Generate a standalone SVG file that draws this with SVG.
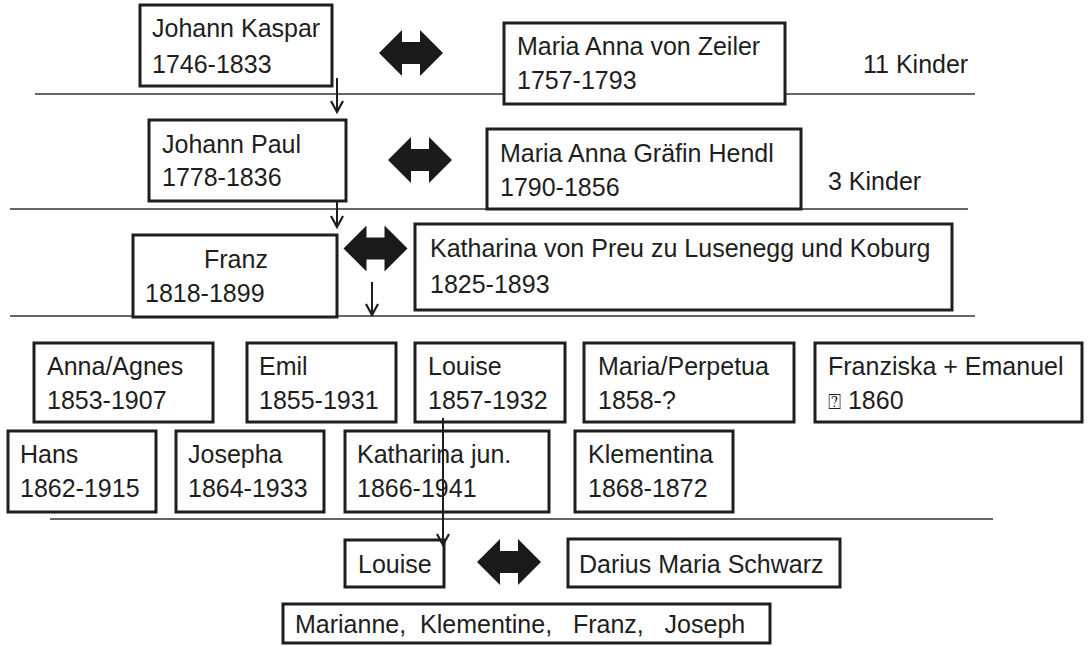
<svg xmlns="http://www.w3.org/2000/svg" width="1090" height="646" viewBox="0 0 1090 646">
<style>
.box{fill:#fff;stroke:#1e1e1e;stroke-width:3}
.t{font-family:"Liberation Sans","DejaVu Sans",sans-serif;font-size:25px;fill:#1e1e1e}
.sep{stroke:#333;stroke-width:1.6}
.con{stroke:#1e1e1e;stroke-width:2;fill:none}
.dbl{fill:#1a1a1a}
</style>
<defs>
<marker id="ah" markerWidth="16" markerHeight="16" refX="14" refY="8" orient="auto" markerUnits="userSpaceOnUse" viewBox="0 0 16 16">
<path d="M3,2 L14,8 L3,14" fill="none" stroke="#1e1e1e" stroke-width="2.2"/>
</marker>
<path id="dbl" d="M-32,0 L-9,-23 L-9,-11 L9,-11 L9,-23 L32,0 L9,23 L9,11 L-9,11 L-9,23 Z"/>
</defs>
<rect width="1090" height="646" fill="#fff"/>
<g id="separators">
<line class="sep" x1="35" y1="94" x2="975" y2="94"/>
<line class="sep" x1="10" y1="209" x2="968" y2="209"/>
<line class="sep" x1="10" y1="316" x2="975" y2="316"/>
<line class="sep" x1="50" y1="519" x2="993" y2="519"/>
</g>
<g id="n-johann-kaspar"><rect class="box" x="140" y="5" width="192" height="81"/><text class="t" x="152" y="37">Johann Kaspar</text><text class="t" x="152" y="73">1746-1833</text></g>
<g id="n-maria-anna-zeiler"><rect class="box" x="504" y="23" width="281" height="81"/><text class="t" x="517" y="55">Maria Anna von Zeiler</text><text class="t" x="517" y="89">1757-1793</text></g>
<g id="l-11-kinder"><text class="t" x="863" y="73">11 Kinder</text></g>
<g id="n-johann-paul"><rect class="box" x="149" y="120" width="197" height="81"/><text class="t" x="162" y="153">Johann Paul</text><text class="t" x="162" y="186">1778-1836</text></g>
<g id="n-maria-anna-hendl"><rect class="box" x="487" y="129" width="314" height="80"/><text class="t" x="500" y="162">Maria Anna Gräfin Hendl</text><text class="t" x="500" y="196">1790-1856</text></g>
<g id="l-3-kinder"><text class="t" x="828" y="190">3 Kinder</text></g>
<g id="n-franz"><rect class="box" x="133" y="235" width="204" height="82"/><text class="t" x="204" y="268">Franz</text><text class="t" x="145" y="302">1818-1899</text></g>
<g id="n-katharina"><rect class="box" x="415" y="224" width="537" height="86"/><text class="t" x="430" y="257">Katharina von Preu zu Lusenegg und Koburg</text><text class="t" x="430" y="293">1825-1893</text></g>
<g id="n-anna-agnes"><rect class="box" x="34" y="343" width="179" height="79"/><text class="t" x="47" y="375">Anna/Agnes</text><text class="t" x="47" y="409">1853-1907</text></g>
<g id="n-emil"><rect class="box" x="247" y="343" width="149" height="79"/><text class="t" x="259" y="375">Emil</text><text class="t" x="259" y="409">1855-1931</text></g>
<g id="n-louise"><rect class="box" x="415" y="343" width="150" height="79"/><text class="t" x="428" y="375">Louise</text><text class="t" x="428" y="409">1857-1932</text></g>
<g id="n-maria-perpetua"><rect class="box" x="584" y="343" width="210" height="79"/><text class="t" x="598" y="375">Maria/Perpetua</text><text class="t" x="598" y="409">1858-?</text></g>
<g id="n-franziska-emanuel"><rect class="box" x="815" y="343" width="267" height="79"/><text class="t" x="828" y="375">Franziska + Emanuel</text><text class="t" x="828" y="409"><tspan font-size="22">⍰</tspan><tspan> 1860</tspan></text></g>
<g id="n-hans"><rect class="box" x="8" y="431" width="148" height="81"/><text class="t" x="20" y="463">Hans</text><text class="t" x="20" y="497">1862-1915</text></g>
<g id="n-josepha"><rect class="box" x="176" y="431" width="148" height="81"/><text class="t" x="188" y="463">Josepha</text><text class="t" x="188" y="497">1864-1933</text></g>
<g id="n-katharina-jun"><rect class="box" x="345" y="431" width="204" height="81"/><text class="t" x="357" y="463">Katharina jun.</text><text class="t" x="357" y="497">1866-1941</text></g>
<g id="n-klementina"><rect class="box" x="575" y="431" width="158" height="81"/><text class="t" x="588" y="463">Klementina</text><text class="t" x="588" y="497">1868-1872</text></g>
<g id="n-louise-2"><rect class="box" x="345" y="540" width="99" height="47"/><text class="t" x="358" y="573">Louise</text></g>
<g id="n-darius"><rect class="box" x="568" y="539" width="272" height="48"/><text class="t" x="579" y="573">Darius Maria Schwarz</text></g>
<g id="n-children"><rect class="box" x="283" y="604" width="487" height="39"/><text class="t" x="295" y="633" xml:space="preserve" style="white-space:pre">Marianne,  Klementine,   Franz,   Joseph</text></g>
<g id="connectors">
<line class="con" x1="337" y1="78" x2="337" y2="112" marker-end="url(#ah)"/>
<line class="con" x1="337" y1="201" x2="337" y2="227" marker-end="url(#ah)"/>
<line class="con" x1="372" y1="282" x2="372" y2="315" marker-end="url(#ah)"/>
<line class="con" x1="443" y1="418" x2="443" y2="545" marker-end="url(#ah)"/>
<use class="dbl" href="#dbl" transform="translate(411,53)"/>
<use class="dbl" href="#dbl" transform="translate(420,160)"/>
<use class="dbl" href="#dbl" transform="translate(375.5,248.5)"/>
<use class="dbl" href="#dbl" transform="translate(509,562)"/>
</g>
</svg>
